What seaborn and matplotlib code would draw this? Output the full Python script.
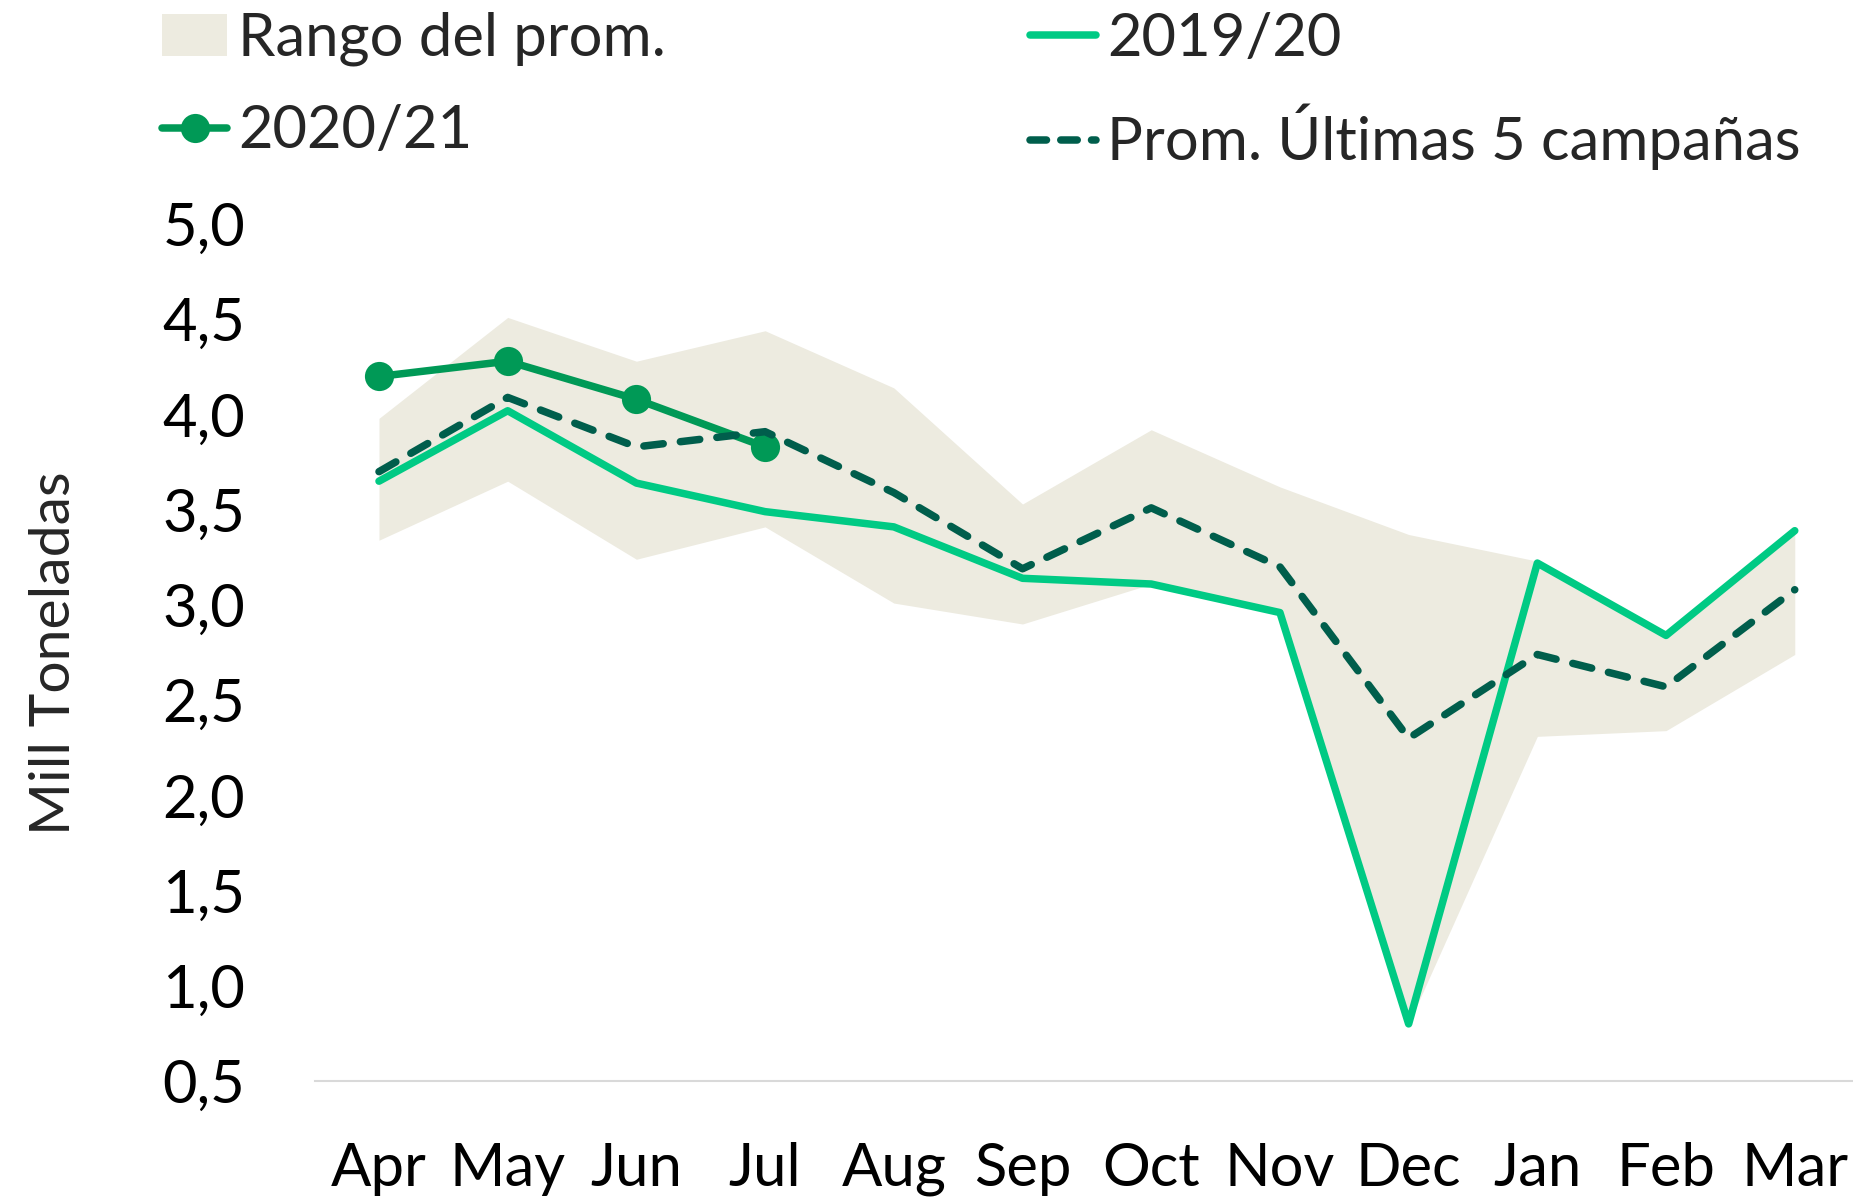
import numpy as np
import pandas as pd
import matplotlib
matplotlib.use("Agg")
import matplotlib.pyplot as plt
import seaborn as sns
from matplotlib.patches import Patch
from matplotlib.lines import Line2D
from matplotlib.ticker import FuncFormatter

# Monthly values (million tonnes), April-March marketing year
months = ["Apr", "May", "Jun", "Jul", "Aug", "Sep", "Oct", "Nov", "Dec", "Jan", "Feb", "Mar"]
rango_max = [3.98, 4.51, 4.28, 4.44, 4.14, 3.53, 3.92, 3.62, 3.37, 3.23, 2.84, 3.38]
rango_min = [3.34, 3.65, 3.24, 3.41, 3.01, 2.90, 3.11, 2.96, 0.80, 2.31, 2.34, 2.74]
camp_2019 = [3.65, 4.02, 3.64, 3.49, 3.41, 3.14, 3.11, 2.96, 0.80, 3.22, 2.84, 3.39]
camp_2020 = [4.20, 4.28, 4.08, 3.83]
prom_5 = [3.70, 4.09, 3.83, 3.91, 3.59, 3.19, 3.51, 3.20, 2.30, 2.74, 2.57, 3.08]
y_ticks = [0.5, 1.0, 1.5, 2.0, 2.5, 3.0, 3.5, 4.0, 4.5, 5.0]

C_RANGE = "#EDEBE0"
C_2019 = "#00CA84"
C_2020 = "#009956"
C_PROM = "#005E4C"
FS = 43
LW = 5.4
MS = 21

sns.set_theme(style="white")
plt.rcParams["font.family"] = ["Lato", "DejaVu Sans"]

x = np.arange(len(months))
df19 = pd.DataFrame({"x": x, "v": camp_2019})
df20 = pd.DataFrame({"x": x[:len(camp_2020)], "v": camp_2020})
dfp = pd.DataFrame({"x": x, "v": prom_5})

fig = plt.figure(figsize=(18.53, 12.01), dpi=100)
ax = fig.add_axes([0.1698, 0.0999, 0.8335, 0.7135])

ax.fill_between(x, rango_min, rango_max, color=C_RANGE, lw=0, zorder=1)
sns.lineplot(data=df20, x="x", y="v", ax=ax, color=C_2020, lw=LW,
             marker="o", markersize=MS, markeredgewidth=0, zorder=3,
             solid_capstyle="round")
sns.lineplot(data=df19, x="x", y="v", ax=ax, color=C_2019, lw=LW, zorder=4,
             solid_capstyle="round", solid_joinstyle="round")
sns.lineplot(data=dfp, x="x", y="v", ax=ax, color=C_PROM, lw=LW, zorder=5,
             dashes=False, solid_capstyle="round")
ax.lines[-1].set_linestyle((0, (2.6, 2.3)))
ax.lines[-1].set_dash_capstyle("round")

ax.set_xlim(-0.5, 11.5)
ax.set_ylim(0.5, 5.0)
ax.set_yticks(y_ticks)
ax.yaxis.set_major_formatter(FuncFormatter(lambda v, p: f"{v:.1f}".replace(".", ",")))
ax.set_xticks(x)
ax.set_xticklabels(months)
ax.tick_params(axis="both", length=0, labelsize=FS, colors="black")
ax.tick_params(axis="y", pad=50)
ax.tick_params(axis="x", pad=44)

for s in ["top", "right", "left"]:
    ax.spines[s].set_visible(False)
ax.spines["bottom"].set_color("#D9D9D9")
ax.spines["bottom"].set_linewidth(1.5)
ax.grid(False)

ax.set_xlabel("")
ax.set_ylabel("")
fig.text(0.0295, 0.456, "Mill Toneladas", rotation=90, ha="center", va="center", fontsize=FS - 2)

handles = [
    Patch(facecolor=C_RANGE, edgecolor="none", label="Rango del prom."),
    Line2D([], [], color=C_2020, lw=LW, marker="o", markersize=MS, markeredgewidth=0, label="2020/21"),
    Line2D([], [], color=C_2019, lw=LW, label="2019/20"),
    Line2D([], [], color=C_PROM, lw=LW, linestyle=(0, (2.2, 1.9)), dash_capstyle="round",
           label="Prom. Últimas 5 campañas"),
]
fig.legend(handles=handles, ncol=2, loc="upper left", bbox_to_anchor=(0.0583, 1.035),
           frameon=False, fontsize=FS, handlelength=1.1, handletextpad=0.18,
           columnspacing=6.1, labelspacing=0.64)

fig.savefig("out.png", dpi=100, facecolor="white")
